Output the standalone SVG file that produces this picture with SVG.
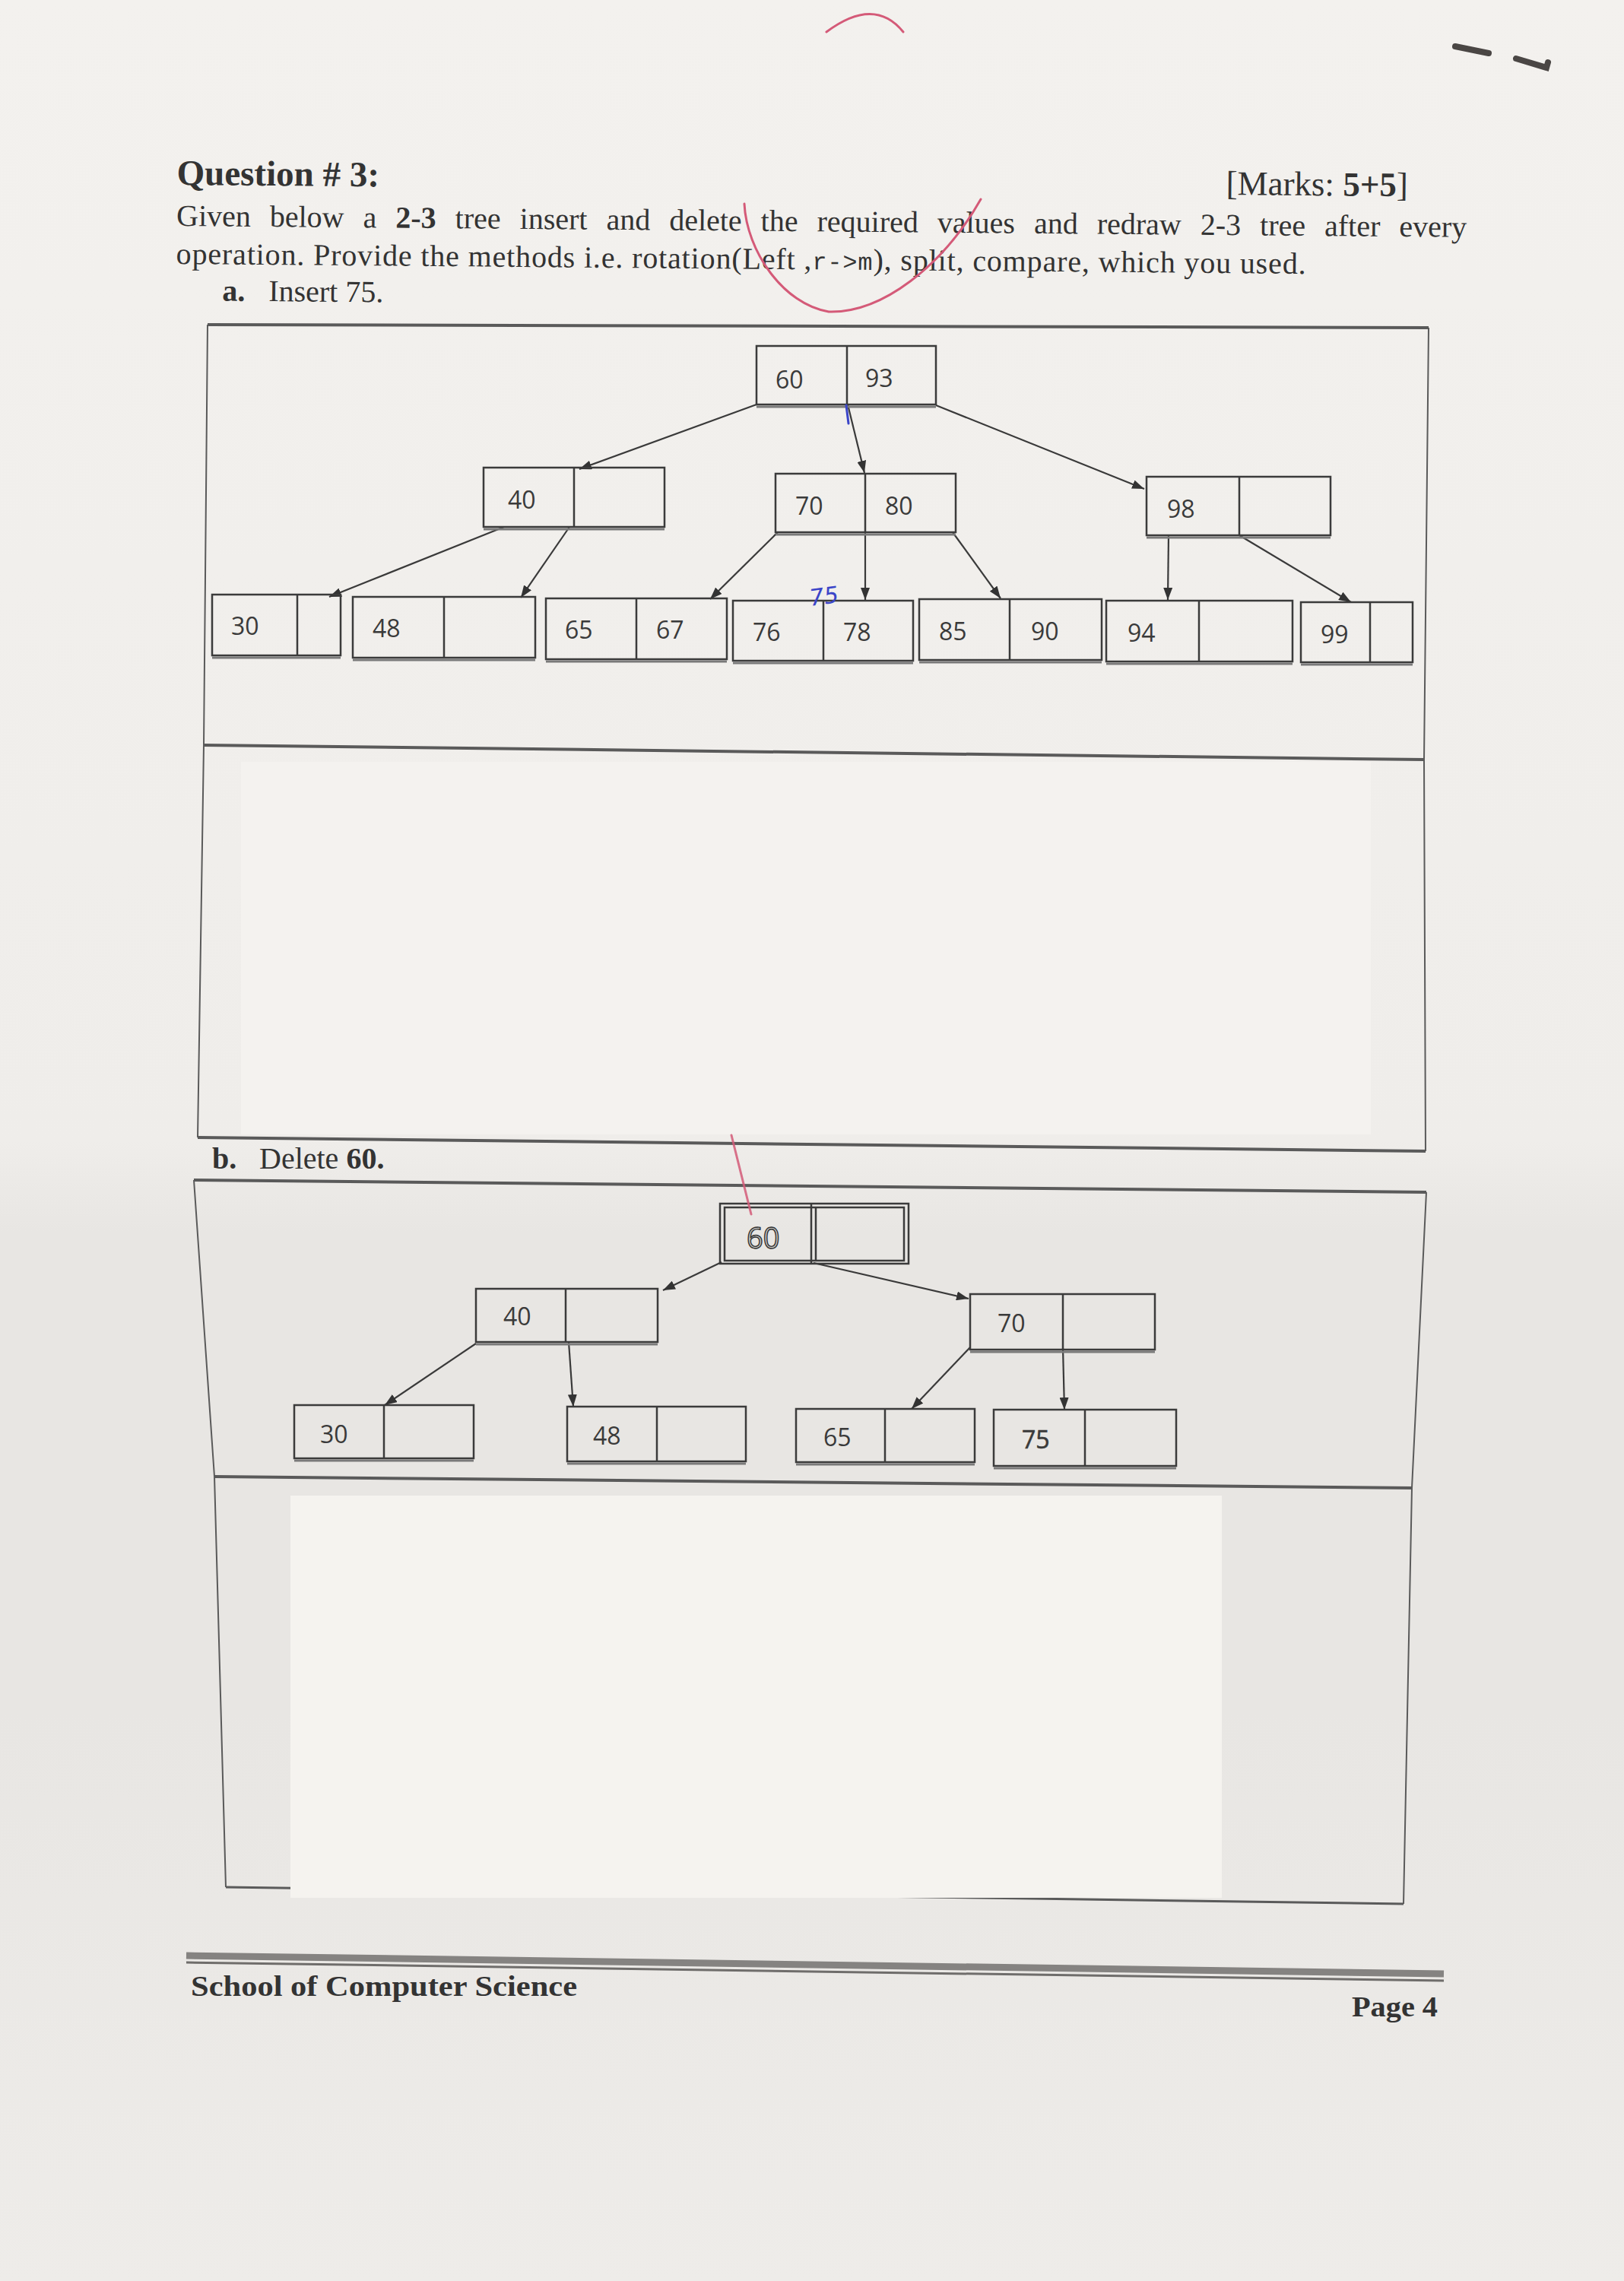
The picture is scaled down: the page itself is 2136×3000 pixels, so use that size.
<svg xmlns="http://www.w3.org/2000/svg" width="2136" height="3000" viewBox="0 0 2136 3000">
<defs>
<linearGradient id="bg" x1="0" y1="0" x2="0" y2="3000" gradientUnits="userSpaceOnUse">
<stop offset="0" stop-color="#f3f1ee"/>
<stop offset="0.5" stop-color="#efedea"/>
<stop offset="0.54" stop-color="#e8e6e3"/>
<stop offset="0.75" stop-color="#e8e6e3"/>
<stop offset="1" stop-color="#eeece9"/>
</linearGradient>
<marker id="ah" markerWidth="16" markerHeight="12" refX="16" refY="6" orient="auto" markerUnits="userSpaceOnUse">
<path d="M0,0 L16,6 L0,12 z" fill="#333"/>
</marker>
<style>
.serif{font-family:"Liberation Serif","Times New Roman",serif;fill:#333;}
.b{font-weight:bold;}
.num{font-family:"Open Sans","Liberation Sans",sans-serif;font-size:32px;fill:#3a3a3a;}
.box{fill:none;stroke:#3b3b3b;stroke-width:2.5;}
.edge{stroke:#7a7a7a;stroke-width:3;}
.conn{stroke:#3a3a3a;stroke-width:2.2;fill:none;marker-end:url(#ah);}
.frame{stroke:#5a5a5a;fill:none;stroke-linejoin:round;}
.red{stroke:#d45a78;fill:none;stroke-width:3;stroke-linecap:round;}
.white{fill:#f5f3ef;}
</style>
</defs>

<rect x="0" y="0" width="2136" height="3000" fill="url(#bg)"/>

<!-- header text -->
<g id="header" transform="rotate(0.5 232 297)">
<text class="serif b" x="232" y="243" font-size="47">Question # 3:</text>
<text class="serif" x="1612" y="244" font-size="45">[Marks: <tspan class="b">5+5</tspan>]</text>
<text class="serif" x="232" y="297" font-size="40" word-spacing="15">Given below a <tspan class="b">2-3</tspan> tree insert and delete the required values and redraw 2-3 tree after every</text>
<text class="serif" x="232" y="347" font-size="40" textLength="1486" lengthAdjust="spacing">operation. Provide the methods i.e. rotation(Left ,<tspan font-family="Liberation Mono, monospace" font-size="32">r-&gt;m</tspan>), split, compare, which you used.</text>
<text class="serif" x="293" y="395" font-size="40"><tspan class="b">a.</tspan><tspan x="354">Insert 75.</tspan></text>
</g>

<!-- section a frame -->
<g id="frame-a">
<path class="frame" stroke-width="2" d="M273,427 L268,980 L260,1496"/>
<path class="frame" stroke-width="2" d="M1879,431 L1873,999 L1875,1514"/>
<path class="frame" stroke-width="4" d="M273,427 L1879,431"/>
<path class="frame" stroke-width="4" d="M268,980 L1873,999"/>
<rect x="317" y="1002" width="1486" height="490" fill="#f4f2ef"/>
<path class="frame" stroke-width="4" d="M260,1496 L1875,1514"/>
</g>

<!-- tree a connectors -->
<g id="connectors-a">
<line class="conn" x1="995" y1="532" x2="762" y2="617"/>
<line class="conn" x1="1115" y1="532" x2="1137" y2="622"/>
<line class="conn" x1="1231" y1="533" x2="1505" y2="643"/>
<line class="conn" x1="663" y1="693" x2="433" y2="785"/>
<line class="conn" x1="749" y1="693" x2="685" y2="786"/>
<line class="conn" x1="1023" y1="700" x2="934" y2="788"/>
<line class="conn" x1="1138" y1="700" x2="1138" y2="789"/>
<line class="conn" x1="1253" y1="700" x2="1316" y2="787"/>
<line class="conn" x1="1537" y1="704" x2="1536" y2="789"/>
<line class="conn" x1="1630" y1="704" x2="1777" y2="792"/>
</g>

<!-- tree a nodes -->
<g id="a-root">
<rect class="box" x="995" y="455" width="236" height="77"/>
<line class="box" x1="1114" y1="455" x2="1114" y2="532"/>
<line class="edge" x1="995" y1="535" x2="1231" y2="535"/>
<text class="num" x="1020" y="511">60</text>
<text class="num" x="1138" y="509">93</text>
</g>
<g id="a-40">
<rect class="box" x="636" y="615" width="238" height="78"/>
<line class="box" x1="755" y1="615" x2="755" y2="693"/>
<line class="edge" x1="636" y1="696" x2="874" y2="696"/>
<text class="num" x="668" y="669">40</text>
</g>
<g id="a-70-80">
<rect class="box" x="1020" y="623" width="237" height="77"/>
<line class="box" x1="1138" y1="623" x2="1138" y2="700"/>
<line class="edge" x1="1020" y1="703" x2="1257" y2="703"/>
<text class="num" x="1046" y="677">70</text>
<text class="num" x="1164" y="677">80</text>
</g>
<g id="a-98">
<rect class="box" x="1508" y="627" width="242" height="77"/>
<line class="box" x1="1630" y1="627" x2="1630" y2="704"/>
<line class="edge" x1="1508" y1="707" x2="1750" y2="707"/>
<text class="num" x="1535" y="681">98</text>
</g>
<g id="a-30">
<rect class="box" x="279" y="782" width="169" height="80"/>
<line class="box" x1="391" y1="782" x2="391" y2="862"/>
<line class="edge" x1="279" y1="865" x2="448" y2="865"/>
<text class="num" x="304" y="835">30</text>
</g>
<g id="a-48">
<rect class="box" x="464" y="785" width="240" height="80"/>
<line class="box" x1="584" y1="785" x2="584" y2="865"/>
<line class="edge" x1="464" y1="868" x2="704" y2="868"/>
<text class="num" x="490" y="838">48</text>
</g>
<g id="a-65-67">
<rect class="box" x="718" y="787" width="238" height="80"/>
<line class="box" x1="837" y1="787" x2="837" y2="867"/>
<line class="edge" x1="718" y1="870" x2="956" y2="870"/>
<text class="num" x="743" y="840">65</text>
<text class="num" x="863" y="840">67</text>
</g>
<g id="a-76-78">
<rect class="box" x="964" y="790" width="237" height="79"/>
<line class="box" x1="1083" y1="790" x2="1083" y2="869"/>
<line class="edge" x1="964" y1="872" x2="1201" y2="872"/>
<text class="num" x="990" y="843">76</text>
<text class="num" x="1109" y="843">78</text>
</g>
<g id="a-85-90">
<rect class="box" x="1209" y="788" width="240" height="80"/>
<line class="box" x1="1328" y1="788" x2="1328" y2="868"/>
<line class="edge" x1="1209" y1="871" x2="1449" y2="871"/>
<text class="num" x="1235" y="842">85</text>
<text class="num" x="1356" y="842">90</text>
</g>
<g id="a-94">
<rect class="box" x="1455" y="790" width="245" height="80"/>
<line class="box" x1="1577" y1="790" x2="1577" y2="870"/>
<line class="edge" x1="1455" y1="873" x2="1700" y2="873"/>
<text class="num" x="1483" y="844">94</text>
</g>
<g id="a-99">
<rect class="box" x="1711" y="792" width="147" height="79"/>
<line class="box" x1="1802" y1="792" x2="1802" y2="871"/>
<line class="edge" x1="1711" y1="874" x2="1858" y2="874"/>
<text class="num" x="1737" y="846">99</text>
</g>

<!-- blue handwriting -->
<g id="blue-marks">
<line x1="1113" y1="533" x2="1116" y2="557" stroke="#3b45c8" stroke-width="3" stroke-linecap="round"/>
<text x="1064" y="795" font-family="DejaVu Sans, sans-serif" font-style="italic" font-size="30" fill="#3b45c8" transform="rotate(-8 1080 780)">75</text>
</g>

<!-- section b label -->
<text class="serif" x="279" y="1537" font-size="40"><tspan class="b">b.</tspan><tspan x="341">Delete </tspan><tspan class="b">60.</tspan></text>

<!-- section b frame -->
<g id="frame-b">
<path class="frame" stroke-width="2" d="M255,1552 L282,1942 L297,2482"/>
<path class="frame" stroke-width="2" d="M1876,1568 L1857,1957 L1846,2504"/>
<path class="frame" stroke-width="4" d="M255,1552 L1876,1568"/>
<path class="frame" stroke-width="4" d="M282,1942 L1857,1957"/>
<path class="frame" stroke-width="3" d="M297,2482 L1846,2504"/>
<rect class="white" x="382" y="1967" width="1225" height="529"/>
</g>

<!-- tree b connectors -->
<g id="connectors-b">
<line class="conn" x1="949" y1="1660" x2="872" y2="1697"/>
<line class="conn" x1="1070" y1="1661" x2="1274" y2="1708"/>
<line class="conn" x1="626" y1="1767" x2="506" y2="1848"/>
<line class="conn" x1="748" y1="1765" x2="754" y2="1850"/>
<line class="conn" x1="1276" y1="1772" x2="1199" y2="1853"/>
<line class="conn" x1="1398" y1="1773" x2="1400" y2="1854"/>
</g>

<!-- tree b nodes -->
<g id="b-root">
<rect class="box" x="947" y="1583" width="248" height="79"/>
<rect class="box" x="953" y="1588" width="236" height="70" stroke-width="1.5"/>
<line class="box" x1="1067" y1="1583" x2="1067" y2="1662" stroke-width="2"/>
<line class="box" x1="1073" y1="1588" x2="1073" y2="1658" stroke-width="2"/>
<text x="982" y="1642" font-family="Open Sans, Liberation Sans, sans-serif" font-size="38" fill="#c9c7c4" stroke="#333" stroke-width="1.4">60</text>
</g>
<g id="b-40">
<rect class="box" x="626" y="1695" width="239" height="70"/>
<line class="box" x1="744" y1="1695" x2="744" y2="1765"/>
<line class="edge" x1="626" y1="1768" x2="865" y2="1768"/>
<text class="num" x="662" y="1743">40</text>
</g>
<g id="b-70">
<rect class="box" x="1276" y="1702" width="243" height="73"/>
<line class="box" x1="1398" y1="1702" x2="1398" y2="1775"/>
<line class="edge" x1="1276" y1="1778" x2="1519" y2="1778"/>
<text class="num" x="1312" y="1752">70</text>
</g>
<g id="b-30">
<rect class="box" x="387" y="1848" width="236" height="70"/>
<line class="box" x1="505" y1="1848" x2="505" y2="1918"/>
<line class="edge" x1="387" y1="1921" x2="623" y2="1921"/>
<text class="num" x="421" y="1898">30</text>
</g>
<g id="b-48">
<rect class="box" x="746" y="1850" width="235" height="72"/>
<line class="box" x1="864" y1="1850" x2="864" y2="1922"/>
<line class="edge" x1="746" y1="1925" x2="981" y2="1925"/>
<text class="num" x="780" y="1900">48</text>
</g>
<g id="b-65">
<rect class="box" x="1047" y="1853" width="235" height="70"/>
<line class="box" x1="1164" y1="1853" x2="1164" y2="1923"/>
<line class="edge" x1="1047" y1="1926" x2="1282" y2="1926"/>
<text class="num" x="1083" y="1902">65</text>
</g>
<g id="b-75">
<rect class="box" x="1307" y="1854" width="240" height="74"/>
<line class="box" x1="1427" y1="1854" x2="1427" y2="1928"/>
<line class="edge" x1="1307" y1="1931" x2="1547" y2="1931"/>
<text class="num" x="1344" y="1905" stroke="#3a3a3a" stroke-width="0.6">75</text>
</g>

<!-- red pen marks -->
<g id="red-marks">
<path class="red" d="M1087,42 Q1150,-5 1188,42"/>
<path class="red" d="M979,268 C982,330 1030,400 1090,410 C1160,412 1240,350 1290,262"/>
<path class="red" d="M962,1493 L988,1597" stroke-width="4" opacity="0.85"/>
</g>

<!-- black marks top-right -->
<g id="black-marks" stroke="#4a4644" stroke-width="8" stroke-linecap="round" fill="none">
<path d="M1914,61 L1958,70"/>
<path d="M1994,77 L2034,89 L2036,82"/>
</g>

<!-- footer -->
<g id="footer">
<path d="M245,2572 L1899,2596" stroke="#858381" stroke-width="9" fill="none"/>
<path d="M245,2581 L1899,2605" stroke="#6f6d6b" stroke-width="3" fill="none"/>
<text class="serif b" x="251" y="2625" font-size="38" textLength="508" lengthAdjust="spacingAndGlyphs">School of Computer Science</text>
<text class="serif b" x="1778" y="2652" font-size="38" textLength="113" lengthAdjust="spacingAndGlyphs">Page 4</text>
</g>
</svg>
